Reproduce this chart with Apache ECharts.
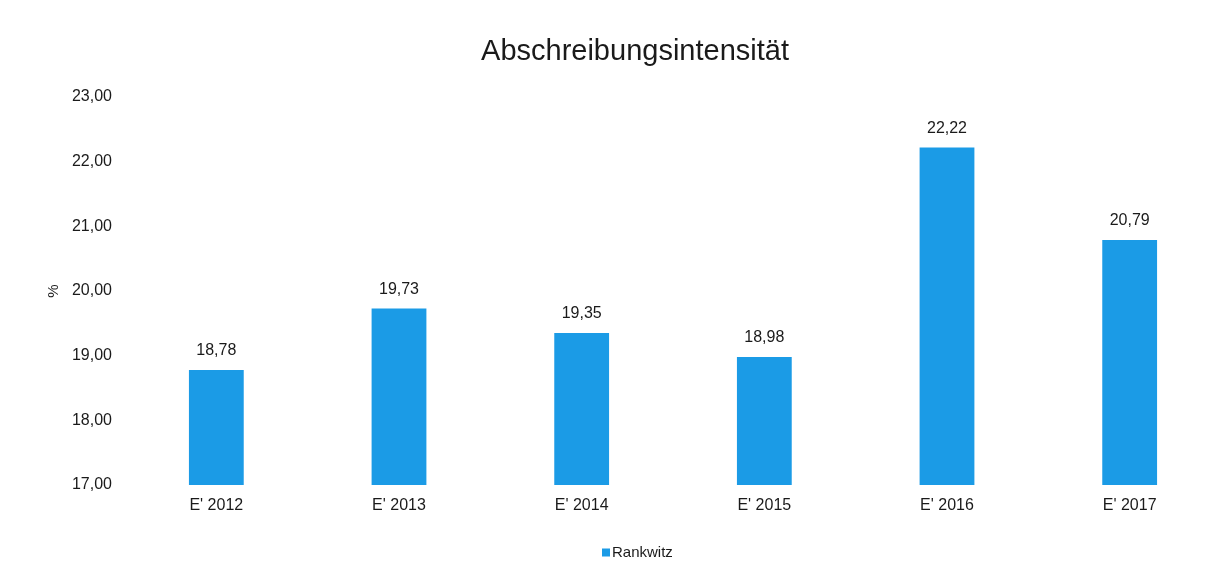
<!DOCTYPE html>
<html>
<head>
<meta charset="utf-8">
<script src="https://cdn.jsdelivr.net/npm/echarts@6/dist/echarts.min.js"></script>
<style>
  html, body { margin: 0; padding: 0; background: #fff; }
  #chart { width: 1223px; height: 573px; }
</style>
</head>
<body>
<div id="chart"></div>
<script>
// Depreciation intensity per fiscal year (percent)
const categories = ["E' 2012", "E' 2013", "E' 2014", "E' 2015", "E' 2016", "E' 2017"];
const values = [18.78, 19.73, 19.35, 18.98, 22.22, 20.79];
const seriesName = 'Rankwitz';
const yTicks = { min: 17, max: 23, interval: 1 };

const fmt = v => v.toFixed(2).replace('.', ',');
const font = '"Liberation Sans", Arial, sans-serif';
const ink = '#1a1a1a';

const chart = echarts.init(document.getElementById('chart'), null, { renderer: 'canvas' });
chart.setOption({
  animation: false,
  backgroundColor: '#ffffff',
  textStyle: { fontFamily: font },
  title: {
    text: 'Abschreibungsintensität',
    left: 630, top: 32,
    textAlign: 'center',
    textStyle: { fontFamily: font, fontSize: 29, fontWeight: 'normal', color: ink }
  },
  legend: {
    data: [seriesName],
    left: 597, top: 540,
    icon: 'rect', itemWidth: 8, itemHeight: 8, itemGap: 2,
    textStyle: { fontFamily: font, fontSize: 15, color: ink, padding: [0, 0, 0, -3] }
  },
  grid: { left: 125, right: 2, top: 97, bottom: 88, containLabel: false },
  xAxis: {
    type: 'category',
    data: categories,
    axisLine: { show: false },
    axisTick: { show: false },
    axisLabel: { fontFamily: font, fontSize: 16, color: ink, margin: 13 }
  },
  yAxis: {
    type: 'value',
    min: yTicks.min, max: yTicks.max, interval: yTicks.interval,
    name: '%',
    nameLocation: 'middle',
    nameGap: 62,
    nameRotate: 90,
    nameTextStyle: { fontFamily: font, fontSize: 15, color: ink },
    splitLine: { show: false },
    axisLine: { show: false },
    axisTick: { show: false },
    axisLabel: { fontFamily: font, fontSize: 16, color: ink, margin: 13, formatter: fmt }
  },
  series: [{
    name: seriesName,
    type: 'bar',
    data: values,
    barWidth: '30%',
    itemStyle: { color: '#1b9be6' },
    label: {
      show: true, position: 'top', distance: 11,
      fontFamily: font, fontSize: 16, color: ink,
      formatter: p => fmt(p.value)
    }
  }]
});
</script>
</body>
</html>
